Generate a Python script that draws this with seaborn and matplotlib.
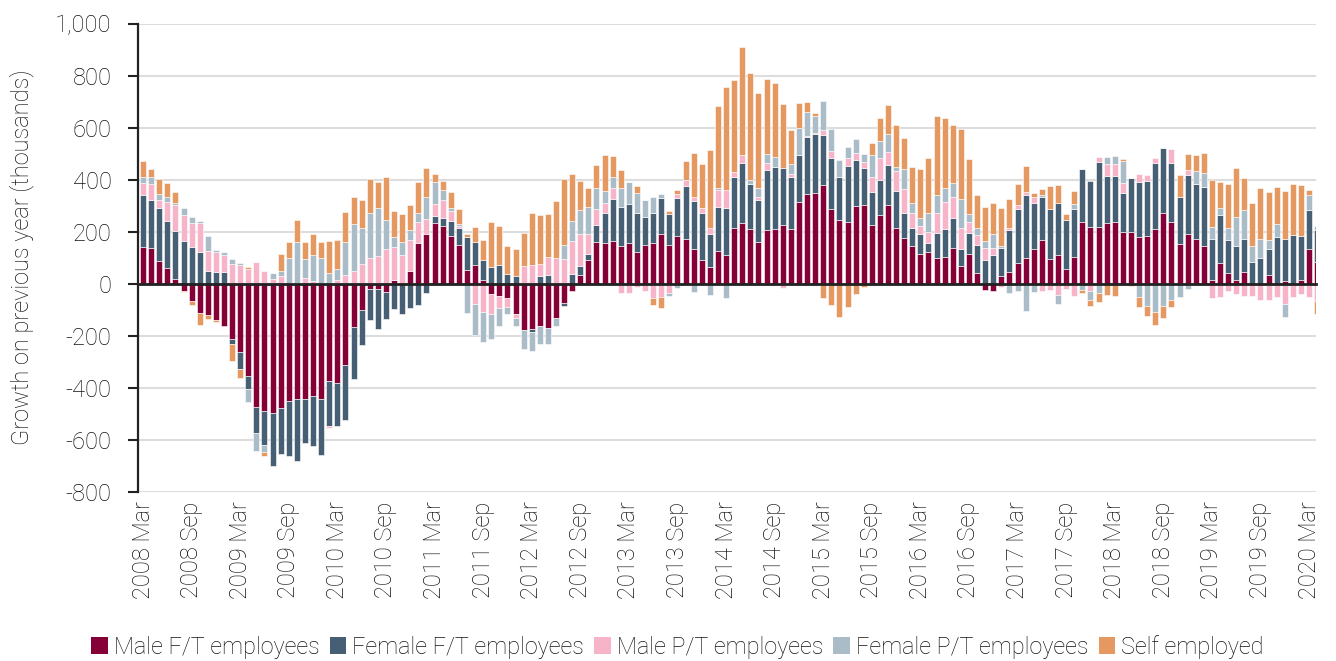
import numpy as np
import pandas as pd
import matplotlib
matplotlib.use("Agg")
import matplotlib.pyplot as plt
from matplotlib.patches import Patch
from matplotlib.ticker import FuncFormatter
import seaborn as sns

# monthly, 2008 Mar .. 2020 Apr (last bar is cut off by the axis edge)
months = pd.date_range("2008-03-01", periods=146, freq="MS").strftime("%Y %b").tolist()

male_ft = [141, 135, 87, 60, 19, -29, -67, -115, -122, -142,
           -162, -212, -264, -354, -474, -491, -497, -478, -450, -444,
           -445, -431, -444, -374, -381, -314, -167, -103, -22, -22,
           -32, 13, 0, 49, 154, 190, 231, 220, 182, 150,
           51, 71, 15, -42, -49, -55, -118, -177, -173, -164,
           -171, -131, -73, -28, 31, 90, 160, 154, 163, 145,
           154, 122, 150, 154, 192, 150, 183, 173, 132, 92,
           64, 126, 109, 213, 231, 208, 158, 205, 208, 224,
           209, 315, 344, 350, 379, 288, 246, 238, 297, 303,
           224, 263, 303, 215, 177, 144, 112, 122, 99, 103,
           135, 67, 114, 41, -23, -27, 28, 45, 79, 99,
           131, 169, 96, 108, 56, 101, 237, 217, 218, 232,
           236, 197, 197, 178, 182, 210, 270, 236, 153, 191,
           172, 146, 14, 79, 41, 14, 44, 0, 0, 33,
           0, 8, 0, 12, 133, 82]

female_ft = [199, 186, 203, 180, 182, 163, 140, 122, 50, 44,
             45, -22, -63, -50, -100, -131, -206, -176, -214, -240,
             -170, -195, -214, -174, -167, -209, -199, -135, -117, -154,
             -106, -99, -118, -94, -81, -38, 28, 32, 58, 62,
             128, 90, 77, 64, 73, 36, 28, 0, -15, 29,
             32, 0, -14, 38, 37, 23, 65, 118, 164, 150,
             151, 150, 106, 118, 138, 119, 146, 201, 186, 179,
             128, 167, 183, 195, 232, 174, 163, 231, 242, 219,
             199, 178, 218, 224, 191, 194, 165, 214, 178, 140,
             128, 136, 153, 141, 96, 71, 77, 35, 96, 108,
             118, 67, 81, 109, 92, 108, 109, 160, 209, 240,
             179, 164, 191, 203, 190, 187, 205, 177, 248, 183,
             176, 151, 208, 212, 212, 253, 250, 227, 179, 227,
             212, 224, 158, 186, 128, 132, 128, 82, 97, 100,
             178, 162, 185, 171, 150, 122]

male_pt = [45, 60, 33, 72, 100, 99, 92, 112, 77, 78,
           64, 77, 70, 54, 83, 49, 17, 28, 0, 0,
           22, 8, 0, -8, 15, 33, 47, 77, 100, 105,
           132, 126, 109, 118, 81, 58, 46, 68, 40, 9,
           0, -77, -109, -76, -44, -35, -14, 67, 70, 47,
           71, 100, 94, 126, 124, 76, 60, 37, 42, -36,
           -38, -13, -29, -55, -51, -35, 17, 23, 13, 20,
           23, 68, 68, 22, 31, 0, 10, 26, 0, -18,
           15, 0, 6, 6, 19, 28, 0, 32, 28, 23,
           59, 82, 51, 77, 92, 58, 32, 41, 77, 103,
           79, 81, 41, 38, 45, 27, -13, 9, 13, 13,
           22, -29, -23, -45, -20, -49, 0, -27, 19, 45,
           46, 38, 0, 32, 22, 20, 0, 53, 0, 17,
           0, 0, -56, -53, -27, -42, -49, -49, -65, -62,
           -53, -78, -53, -40, -53, -68]

female_pt = [26, 29, 23, 19, 10, 27, 23, 6, 55, 6,
             13, 17, 10, -51, -69, -26, 24, 19, 100, 158,
             74, 100, 99, 41, 40, 128, 181, 137, 172, 187,
             112, 41, 51, 38, 38, 83, 86, 38, 9, 8,
             -112, -122, -115, -97, -71, -29, -32, -76, -72, -67,
             -63, -32, 54, 76, 90, 106, 83, 45, 41, 74,
             86, 78, 67, 59, 15, -13, -17, 0, -32, 0,
             -45, 6, -56, 0, 0, 17, 35, 38, 35, 0,
             38, 106, 90, 64, 113, 86, 64, 41, 54, 32,
             82, 68, 68, 15, 77, 38, 32, 72, 67, 53,
             53, 109, 32, 26, 28, 54, 9, -36, -30, -106,
             -32, 9, 0, -33, 0, 19, -23, -35, -36, 28,
             31, 86, 0, -53, -88, -110, -85, -65, -50, -21,
             47, 55, 47, 26, 45, 109, 109, 64, 74, 36,
             51, -51, 0, 0, 58, 17]

self_emp = [60, 32, 55, 56, 42, -5, -17, -45, -13, -5,
            0, -65, -35, 9, 0, -17, 0, 68, 60, 86,
            64, 83, 60, 124, 112, 114, 103, 106, 130, 99,
            164, 100, 106, 96, 118, 115, 29, 36, 62, 58,
            10, 58, 77, 173, 147, 108, 103, 129, 201, 188,
            164, 217, 253, 183, 112, 71, 88, 140, 81, 67,
            0, 24, 0, -26, -45, 10, 13, 74, 172, 169,
            297, 317, 396, 354, 414, 410, 365, 286, 286, 246,
            129, 94, 41, 10, -56, -82, -128, -90, -41, -12,
            46, 87, 113, 162, 119, 138, 188, 214, 305, 269,
            224, 272, 212, 128, 129, 122, 145, 113, 83, 100,
            17, 22, 87, 67, 23, 47, -13, -26, -36, -46,
            -49, 6, -10, -36, -38, -49, -49, -26, 87, 64,
            65, 76, 179, 101, 167, 190, 126, 163, 195, 182,
            144, 186, 196, 197, 17, -48]

series = ["Male F/T employees", "Female F/T employees", "Male P/T employees",
          "Female P/T employees", "Self employed"]
colors = ["#840036", "#465f75", "#f7b4c8", "#aabcc8", "#e59961"]

df = pd.DataFrame({"month": months, series[0]: male_ft, series[1]: female_ft,
                   series[2]: male_pt, series[3]: female_pt, series[4]: self_emp})

sns.set_style("white")
plt.rcParams["font.family"] = ["Roboto", "DejaVu Sans"]
plt.rcParams["font.weight"] = "light"
plt.rcParams["axes.labelweight"] = "light"
txt = "#111111"
fs = 17

fig = plt.figure(figsize=(13.36, 6.61), dpi=100)
ax = fig.add_axes([0.1033, 0.2564, 0.8817, 0.708])

pos = np.zeros(len(df))
neg = np.zeros(len(df))
for name, col in zip(series, colors):
    v = df[name].to_numpy(dtype=float)
    bottom = np.where(v >= 0, pos, neg)
    sns.barplot(x=df["month"], y=v, bottom=bottom, color=col, saturation=1,
                width=0.74, errorbar=None, edgecolor="white", linewidth=0.4,
                ax=ax, zorder=2)
    pos += np.where(v > 0, v, 0)
    neg += np.where(v < 0, v, 0)

ax.set_ylim(-800, 1000)
ax.set_xlim(-0.62, 144.85)
ax.set_yticks(range(-800, 1001, 200))
ax.yaxis.set_major_formatter(FuncFormatter(lambda y, p: f"{int(y):,}"))
ax.yaxis.grid(True, color="#dddddd", linewidth=1.5)
ax.set_axisbelow(True)

for s in ["top", "right"]:
    ax.spines[s].set_visible(False)
ax.spines["left"].set_color("#222222")
ax.spines["left"].set_linewidth(1.6)
ax.spines["bottom"].set_position(("data", 0))
ax.spines["bottom"].set_color("#222222")
ax.spines["bottom"].set_linewidth(2)
ax.spines["bottom"].set_zorder(3)

lab_idx = list(range(0, 146, 6))
ax.set_xticks(lab_idx)
ax.set_xticklabels([months[i] for i in lab_idx], rotation=90, va="top", ha="center")
ax.set_xticks(np.arange(5.5, 145, 6), minor=True)
ax.tick_params(axis="x", which="major", length=0, pad=157, labelsize=fs, labelcolor=txt)
ax.tick_params(axis="x", which="minor", length=6, width=1.6, color="#222222", direction="out")
ax.tick_params(axis="y", length=7, width=1.5, color="#222222", pad=12,
               labelsize=fs, labelcolor=txt, left=True)
ax.set_xlabel("")
ax.set_ylabel("Growth on previous year (thousands)", fontsize=fs, color=txt,
              fontweight="light", labelpad=15)

handles = [Patch(facecolor=c, edgecolor="none") for c in colors]
fig.legend(handles, series, loc="center", bbox_to_anchor=(0.507, 0.021), ncol=5,
           frameon=False, fontsize=16.8, handlelength=0.7, handleheight=0.75,
           handletextpad=0.25, columnspacing=0.45, labelcolor=txt)

fig.savefig("out.png", dpi=100)
plt.close(fig)
print("Done: out.png")
